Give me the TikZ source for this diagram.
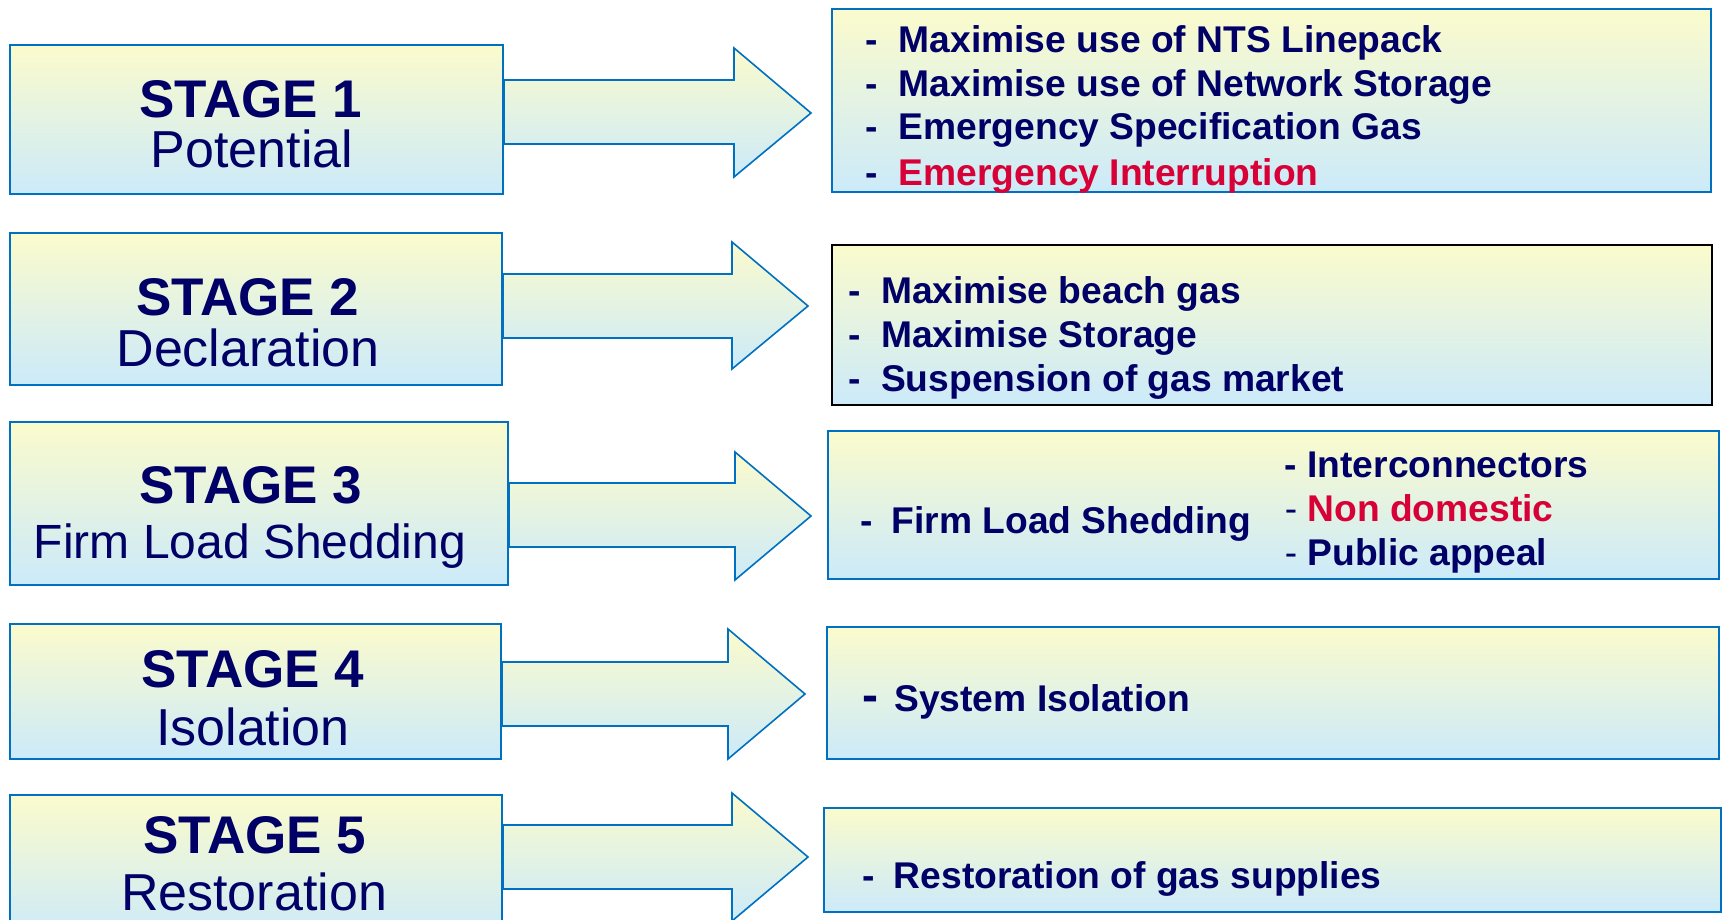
\documentclass[tikz,border=0pt]{standalone}
\usepackage{fontspec}
\setmainfont{Liberation Sans}
\usetikzlibrary{fit,calc}
\definecolor{navy}{RGB}{0,0,102}
\definecolor{crim}{RGB}{215,0,55}
\definecolor{edgeblue}{RGB}{0,112,192}
\definecolor{topy}{RGB}{251,251,204}
\definecolor{botb}{RGB}{204,234,250}
\newcommand\itemdash[1]{-\hspace{#1}}
\tikzset{
  grad/.style={top color=topy, bottom color=botb},
  lbox/.style={draw=edgeblue, line width=1pt, grad, inner sep=0pt, rectangle},
  rbox/.style={draw=edgeblue, line width=1pt, grad, inner sep=0pt, rectangle},
  rboxk/.style={draw=black, line width=1pt, grad, inner sep=0pt, rectangle},
  barrow/.style={draw=edgeblue, line width=0.8pt, grad, line join=miter},
  stitle/.style={anchor=base, inner sep=0pt, text=navy, font=\fontsize{26.5pt}{26.5pt}\selectfont\bfseries},
  ssub/.style={anchor=base, inner sep=0pt, text=navy, font=\fontsize{26pt}{26pt}\selectfont},
  itemtxt/.style={anchor=base west, inner sep=0pt, text=navy, font=\fontsize{18.6pt}{18.6pt}\selectfont\bfseries},
}
\begin{document}
\begin{tikzpicture}[x=0.5pt,y=-0.5pt]
\useasboundingbox (0,0) rectangle (1723,920);
\fill[white] (0,0) rectangle (1723,920);

% left stage boxes
\node[lbox, fit={(10,45)(503,194)}] (s1) {};
\node[lbox, fit={(10,233)(502,385)}] (s2) {};
\node[lbox, fit={(10,422)(508,585)}] (s3) {};
\node[lbox, fit={(10,624)(501,759)}] (s4) {};
\node[lbox, fit={(10,795)(502,940)}] (s5) {};

% right boxes
\node[rbox, fit={(832,9)(1711,192)}] (r1) {};
\node[rboxk, fit={(832,245)(1712,405)}] (r2) {};
\node[rbox, fit={(828,431)(1719,579)}] (r3) {};
\node[rbox, fit={(827,627)(1719,759)}] (r4) {};
\node[rbox, fit={(824,808)(1721,912)}] (r5) {};

% block arrows
\draw[barrow] (s1.east |- 0,80) -- (734,80) -- (734,48) -- (811,113) -- (734,177) -- (734,144) -- (s1.east |- 0,144) -- cycle;
\draw[barrow] (s2.east |- 0,274) -- (732,274) -- (732,242) -- (808,306) -- (732,369) -- (732,338) -- (s2.east |- 0,338) -- cycle;
\draw[barrow] (s3.east |- 0,483) -- (735,483) -- (735,452) -- (811,516) -- (735,580) -- (735,547) -- (s3.east |- 0,547) -- cycle;
\draw[barrow] (s4.east |- 0,662) -- (728,662) -- (728,629) -- (805,694) -- (728,759) -- (728,726) -- (s4.east |- 0,726) -- cycle;
\draw[barrow] (s5.east |- 0,825) -- (732,825) -- (732,793) -- (808,857) -- (732,921) -- (732,889) -- (s5.east |- 0,889) -- cycle;

% stage texts
\node[stitle] (t1a) at (251,118) {STAGE 1};
\node[ssub]   (t1b) at (252,168) {Potential};
\node[stitle] (t2a) at (248,315) {STAGE 2};
\node[ssub]   (t2b) at (248,366) {Declaration};
\node[stitle] (t3a) at (251,503) {STAGE 3};
\node[ssub, font=\fontsize{24pt}{24pt}\selectfont] (t3b) at (250,558) {Firm Load Shedding};
\node[stitle] (t4a) at (253,687) {STAGE 4};
\node[ssub]   (t4b) at (253,745) {Isolation};
\node[stitle] (t5a) at (255,853) {STAGE 5};
\node[ssub]   (t5b) at (254,910) {Restoration};

% right texts
\node[itemtxt] (i11) at (865.5,53)  {\itemdash{10.3pt}Maximise use of NTS Linepack};
\node[itemtxt] (i12) at (865.5,97)  {\itemdash{10.3pt}Maximise use of Network Storage};
\node[itemtxt] (i13) at (865.5,140) {\itemdash{10.3pt}Emergency Specification Gas};
\node[itemtxt] (i14) at (865.5,185) {\itemdash{10.3pt}\textcolor{crim}{Emergency Interruption}};

\node[itemtxt] (i21) at (848.5,303) {\itemdash{9.9pt}Maximise beach gas};
\node[itemtxt] (i22) at (848.5,347) {\itemdash{9.9pt}Maximise Storage};
\node[itemtxt] (i23) at (848.5,391) {\itemdash{9.9pt}Suspension of gas market};

\node[itemtxt] (i31) at (860.4,533) {\itemdash{9.3pt}Firm Load Shedding};
\node[itemtxt] (i32) at (1284.4,477) {- Interconnectors};
\node[itemtxt] (i33) at (1284.4,521) {{\mdseries -} \textcolor{crim}{Non domestic}};
\node[itemtxt] (i34) at (1284.4,565) {{\mdseries -} Public appeal};

\node[itemtxt] (i41) at (862,711) {{\fontsize{24pt}{24pt}\selectfont -}\hspace{8pt}System Isolation};
\node[itemtxt] (i51) at (862.4,888) {\itemdash{9.3pt}Restoration of gas supplies};
\end{tikzpicture}
\end{document}
